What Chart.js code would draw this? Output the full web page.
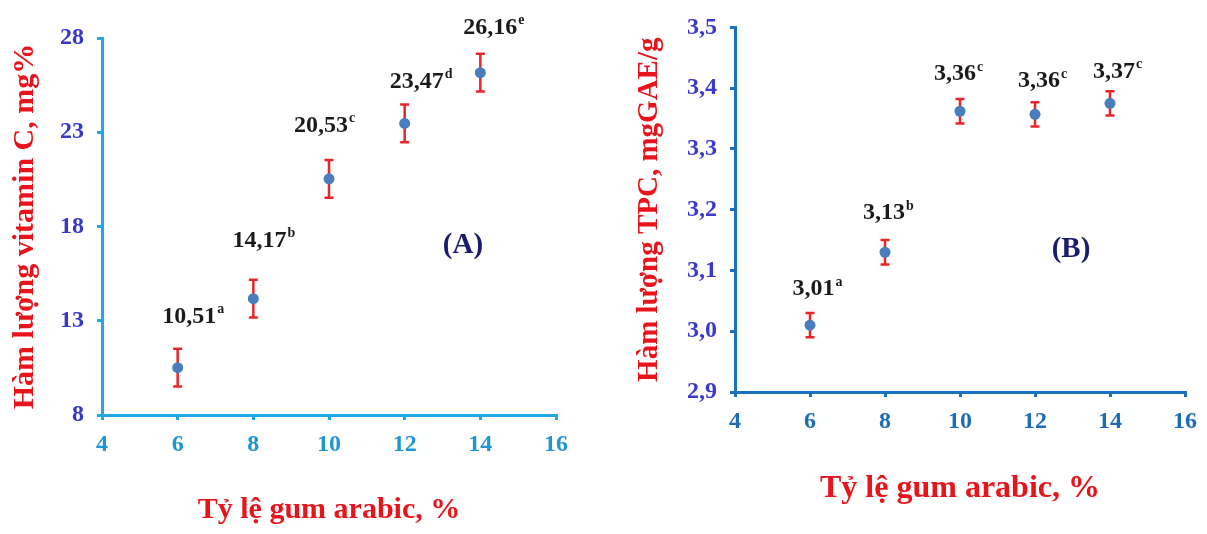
<!DOCTYPE html>
<html>
<head>
<meta charset="utf-8">
<script src="https://cdn.jsdelivr.net/npm/chart.js@4/dist/chart.umd.min.js"></script>
<style>
html, body { margin: 0; padding: 0; background: #fff; }
#wrap { position: relative; width: 1207px; height: 534px; }
#chartA { position: absolute; left: 0; top: 0; }
#chartB { position: absolute; left: 600px; top: 0; }
</style>
</head>
<body>
<div id="wrap">
    <canvas id="chartA" width="600" height="534"></canvas>
    <canvas id="chartB" width="607" height="534"></canvas>
</div>
<script>
// data
const gumRatio = [6, 8, 10, 12, 14];

const vitC = [10.51, 14.17, 20.53, 23.47, 26.16];
const vitCErr = [1.0, 1.0, 1.0, 1.0, 1.0];
const vitCText = ['10,51', '14,17', '20,53', '23,47', '26,16'];
const vitCLetters = ['a', 'b', 'c', 'd', 'e'];
const vitCTicks = [8, 13, 18, 23, 28];

const tpc = [3.01, 3.13, 3.362, 3.357, 3.375];
const tpcErr = [0.02, 0.02, 0.02, 0.02, 0.02];
const tpcText = ['3,01', '3,13', '3,36', '3,36', '3,37'];
const tpcLetters = ['a', 'b', 'c', 'c', 'c'];
const tpcTicks = [2.9, 3.0, 3.1, 3.2, 3.3, 3.4, 3.5];

const xTicks = [4, 6, 8, 10, 12, 14, 16];

const SERIF = '"Liberation Serif", "Times New Roman", serif';
const RED = '#e8141c';

const errorBars = {
    id: 'errorBars',
    beforeDatasetsDraw(chart, args, opts) {
        const { ctx, scales: { x, y } } = chart;
        const pts = chart.data.datasets[0].data;
        ctx.save();
        ctx.strokeStyle = opts.color;
        ctx.lineWidth = opts.width;
        pts.forEach((p, i) => {
            const px = x.getPixelForValue(p.x);
            const top = y.getPixelForValue(p.y + opts.errors[i]);
            const bot = y.getPixelForValue(p.y - opts.errors[i]);
            ctx.beginPath();
            ctx.moveTo(px, top); ctx.lineTo(px, bot);
            ctx.moveTo(px - opts.cap, top); ctx.lineTo(px + opts.cap, top);
            ctx.moveTo(px - opts.cap, bot); ctx.lineTo(px + opts.cap, bot);
            ctx.stroke();
        });
        ctx.restore();
    }
};

const pointLabels = {
    id: 'pointLabels',
    afterDatasetsDraw(chart, args, opts) {
        const { ctx, scales: { x, y } } = chart;
        const pts = chart.data.datasets[0].data;
        ctx.save();
        ctx.fillStyle = opts.color;
        ctx.textBaseline = 'middle';
        pts.forEach((p, i) => {
            const px = x.getPixelForValue(p.x) + opts.offsets[i][0];
            const py = y.getPixelForValue(p.y) + opts.offsets[i][1];
            ctx.font = 'bold ' + opts.size + 'px ' + SERIF;
            const w = ctx.measureText(opts.text[i]).width;
            ctx.font = 'bold ' + opts.supSize + 'px ' + SERIF;
            const ws = ctx.measureText(opts.letters[i]).width;
            const left = px - (w + ws) / 2;
            ctx.font = 'bold ' + opts.size + 'px ' + SERIF;
            ctx.textAlign = 'left';
            ctx.fillText(opts.text[i], left, py);
            ctx.font = 'bold ' + opts.supSize + 'px ' + SERIF;
            ctx.fillText(opts.letters[i], left + w + 1, py - opts.size * 0.3);
        });
        ctx.restore();
    }
};

const panelTag = {
    id: 'panelTag',
    afterDraw(chart, args, opts) {
        const { ctx, scales: { x, y } } = chart;
        ctx.save();
        ctx.fillStyle = '#1b1b6e';
        ctx.font = 'bold 29px ' + SERIF;
        ctx.textAlign = 'center';
        ctx.textBaseline = 'middle';
        ctx.fillText(opts.text, x.getPixelForValue(opts.at[0]), y.getPixelForValue(opts.at[1]));
        ctx.restore();
    }
};

function makeChart(id, cfg) {
    const pts = gumRatio.map((g, i) => ({ x: g, y: cfg.values[i] }));
    return new Chart(document.getElementById(id), {
        type: 'scatter',
        data: {
            datasets: [{
                data: pts,
                pointRadius: 5.5,
                pointBackgroundColor: '#4a7dbb',
                pointBorderWidth: 0
            }]
        },
        options: {
            responsive: false,
            animation: false,
            devicePixelRatio: 1,
            layout: { padding: { left: 0, top: cfg.area.top, right: cfg.area.right, bottom: 0 } },
            plugins: {
                legend: { display: false },
                tooltip: { enabled: false },
                errorBars: { errors: cfg.errors, color: '#e8262a', width: 2.5, cap: 4.5 },
                pointLabels: { text: cfg.text, letters: cfg.letters, offsets: cfg.offsets, color: '#1a1a1a', size: 24, supSize: 14 },
                panelTag: { text: cfg.tag, at: cfg.tagAt }
            },
            scales: {
                x: {
                    type: 'linear',
                    min: 4, max: 16,
                    afterBuildTicks: s => { s.ticks = xTicks.map(v => ({ value: v })); },
                    afterFit: s => { s.height = cfg.area.xHeight; },
                    border: { color: cfg.axisColor, width: 3 },
                    grid: { drawOnChartArea: false, color: cfg.axisColor, lineWidth: 3, tickLength: 5 },
                    ticks: { color: cfg.xTickColor, padding: 10, font: { family: SERIF, size: 24, weight: 'bold' } },
                    title: { display: true, text: 'Tỷ lệ gum arabic, %', color: RED, padding: { top: 0, bottom: cfg.xTitlePad }, font: { family: SERIF, size: cfg.xTitleSize, weight: 'bold' } }
                },
                y: {
                    type: 'linear',
                    min: cfg.yTicks[0], max: cfg.yTicks[cfg.yTicks.length - 1],
                    afterBuildTicks: s => { s.ticks = cfg.yTicks.map(v => ({ value: v })); },
                    afterFit: s => { s.width = cfg.area.yWidth; },
                    border: { color: cfg.axisColor, width: 3 },
                    grid: { drawOnChartArea: false, color: cfg.axisColor, lineWidth: 3, tickLength: 5 },
                    ticks: { color: cfg.yTickColor, padding: 13, font: { family: SERIF, size: 24, weight: 'bold' }, callback: cfg.yFormat },
                    title: { display: true, text: cfg.yTitle, color: RED, padding: { top: cfg.yTitlePad, bottom: 0 }, font: { family: SERIF, size: cfg.yTitleSize, weight: 'bold' } }
                }
            }
        },
        plugins: [errorBars, pointLabels, panelTag]
    });
}

makeChart('chartA', {
    values: vitC, errors: vitCErr, text: vitCText, letters: vitCLetters,
    offsets: [[15, -51], [10, -58], [-5, -53], [16, -42], [13, -45]],
    yTicks: vitCTicks,
    yFormat: v => String(v),
    yTitle: 'Hàm lượng vitamin C, mg%',
    yTitleSize: 30, yTitlePad: 7,
    xTitleSize: 30, xTitlePad: 6,
    area: { top: 38, right: 44, yWidth: 102, xHeight: 119 },
    axisColor: '#1fa9e4', xTickColor: '#1f96d4', yTickColor: '#3838c8',
    tag: '(A)', tagAt: [13.54, 17.0]
});

makeChart('chartB', {
    values: tpc, errors: tpcErr, text: tpcText, letters: tpcLetters,
    offsets: [[7, -36], [3, -39], [-2, -37], [7, -33], [7, -32]],
    yTicks: tpcTicks,
    yFormat: v => v.toFixed(1).replace('.', ','),
    yTitle: 'Hàm lượng TPC, mgGAE/g',
    yTitleSize: 29, yTitlePad: 32,
    xTitleSize: 32, xTitlePad: 26,
    area: { top: 16, right: 22, yWidth: 135, xHeight: 142 },
    axisColor: '#1b72ba', xTickColor: '#1d6db6', yTickColor: '#3a3ad0',
    tag: '(B)', tagAt: [12.96, 3.134]
});
</script>
</body>
</html>
